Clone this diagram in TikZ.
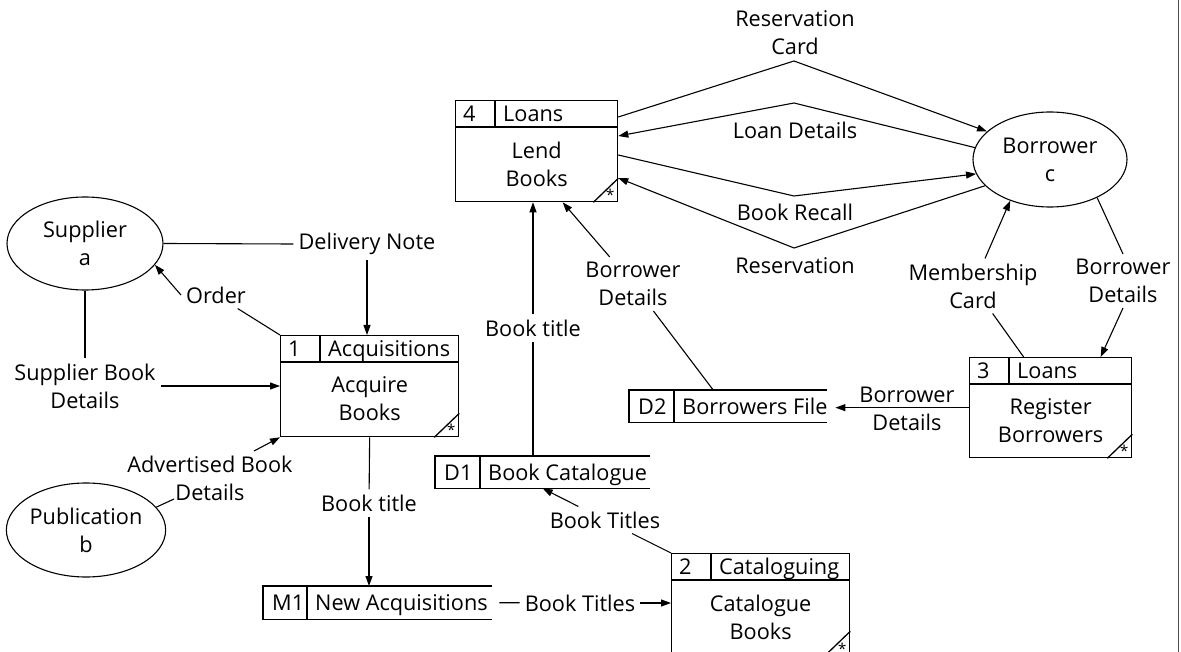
\documentclass[tikz,border=0pt]{standalone}
\usepackage{fontspec}
\setmainfont{Open Sans}
\usetikzlibrary{shapes.geometric,arrows.meta,calc}

\tikzset{
  lbl/.style={inner sep=5pt, align=center},
  ent/.style={ellipse, draw, line width=1.1pt, inner sep=0pt, align=center},
  procbox/.style={draw, line width=1.3pt, inner sep=0pt},
  procline/.style={line width=1.3pt},
  storebox/.style={inner sep=0pt},
  flow/.style={line width=1.1pt},
  arr/.style={flow, -{Triangle[length=10pt,width=7pt]}},
}

% name, x1, y1, w, h, num, title, body
\newcommand{\dfdproc}[8]{%
  \node[procbox, minimum width=#4pt, minimum height=#5pt, anchor=north west] (#1) at (#2,#3) {};
  \draw[procline] ($(#1.north west)+(0,27)$) -- ($(#1.north east)+(0,27)$);
  \draw[procline] ($(#1.north west)+(40,0)$) -- ($(#1.north west)+(40,27)$);
  \node[anchor=base west, inner sep=4pt] at ($(#1.north west)+(4,21.5)$) {#6};
  \node[anchor=base west, inner sep=4pt] at ($(#1.north west)+(44,21.5)$) {#7};
  \node[align=center, inner sep=0pt] at ($(#1.north)+(0,64)$) {#8};
  \draw[procline] ($(#1.south east)+(-25,0)$) -- ($(#1.south east)+(0,-24)$);
  \node[inner sep=0pt, font=\fontsize{15}{15}\selectfont] at ($(#1.south east)+(-8,-7)$) {*};
}
% name, x1, y1, w, h, divider offset, id, title
\newcommand{\dfdstore}[8]{%
  \node[storebox, minimum width=#4pt, minimum height=#5pt, anchor=north west] (#1) at (#2,#3) {};
  \draw[procline] (#1.north east) -- (#1.north west) -- (#1.south west) -- (#1.south east);
  \draw[procline] ($(#1.north west)+(#6,0)$) -- ($(#1.south west)+(#6,0)$);
  \node[anchor=base west, inner sep=4pt] at ($(#1.north west)+(5,24)$) {#7};
  \node[anchor=base west, inner sep=4pt] at ($(#1.north west)+(#6+4,24)$) {#8};
}

\begin{document}
\begin{tikzpicture}[x=1pt,y=-1pt,font=\fontsize{21.7}{28}\selectfont]
\useasboundingbox (0,0) rectangle (1181,652);

% external entities
\node[ent, minimum width=156pt, minimum height=93pt] (sup) at (85,243.5) {Supplier\\a};
\node[ent, minimum width=156pt, minimum height=94pt] (pub) at (86,530) {Publication\\b};
\node[ent, minimum width=154pt, minimum height=95pt] (bor) at (1050,159.5) {Borrower\\c};

% processes
\dfdproc{p1}{280}{335}{178}{101}{1}{Acquisitions}{Acquire\\Books}
\dfdproc{p2}{671}{553}{178}{101}{2}{Cataloguing}{Catalogue\\Books}
\dfdproc{p3}{969}{357}{162}{100}{3}{Loans}{Register\\Borrowers}
\dfdproc{p4}{455}{100}{162}{101}{4}{Loans}{Lend\\Books}

% data stores
\dfdstore{m1}{263}{586}{229}{33}{44}{M1}{New Acquisitions}
\dfdstore{d1}{435}{456}{215}{32}{45}{D1}{Book Catalogue}
\dfdstore{d2}{629}{390}{198}{32}{45}{D2}{Borrowers File}

% labels
\node[lbl] (dn)   at (367,244) {Delivery Note};
\node[lbl] (ord)  at (216,295) {Order};
\node[lbl] (sbd)  at (85,386)  {Supplier Book\\Details};
\node[lbl] (abd)  at (210,478) {Advertised Book\\Details};
\node[lbl] (bt1)  at (369,503) {Book title};
\node[lbl] (btt2) at (580,603) {Book Titles};
\node[lbl] (btt1) at (605,520) {Book Titles};
\node[lbl] (bt3)  at (533,328) {Book title};
\node[lbl] (bdl)  at (633,284) {Borrower\\Details};
\node[lbl] (rc)   at (795,33)  {Reservation\\Card};
\node[lbl] (ld)   at (795,130) {Loan Details};
\node[lbl] (br)   at (795,212) {Book Recall};
\node[lbl] (res)  at (795,266) {Reservation};
\node[lbl] (mc)   at (973,286) {Membership\\Card};
\node[lbl] (bdr)  at (1123,281) {Borrower\\Details};
\node[lbl] (bdm)  at (907,409) {Borrower\\Details};

% bend / free-end coordinates
\coordinate (rcB)  at (794,61);
\coordinate (ldB)  at (794,103);
\coordinate (brB)  at (794,196);
\coordinate (resB) at (794,248);
\coordinate (abdA) at (174,499);
\coordinate (abdB) at (254,451);

% supplier side
\draw[flow] (sup.east) -- (dn.west);
\draw[arr] (dn) -- (dn |- p1.north);
\draw[flow] (p1.north west) -- (ord);
\draw[arr] (ord.west) -- (sup.-17.5);
\draw[flow] (sup.south) -- (sbd.north);
\draw[arr] (sbd.east) -- (sbd.east -| p1.west);
\draw[flow] (pub.18.4) -- (abdA);
\draw[arr] (abdB) -- (p1.south west);

% acquisitions -> stores
\draw[flow] (p1.south) -- (bt1);
\draw[arr] (bt1) -- (bt1 |- m1.north);
\draw[flow] ([xshift=7pt]m1.east) -- (btt2);
\draw[arr] (btt2) -- (btt2 -| p2.west);
\draw[flow] (p2.north west) -- (btt1);
\draw[arr] (btt1) -- (d1.south);
\draw[flow] (bt3 |- d1.north) -- (bt3);
\draw[arr] (bt3) -- (bt3 |- p4.south);
\draw[flow] ([xshift=-15pt]d2.north) -- (bdl);
\draw[arr] (bdl) -- ([xshift=26pt]p4.south);

% loans <-> borrower
\draw[arr] ($(p4.north east)+(0,17)$) -- (rcB) -- (bor.156);
\draw[arr] (bor.171) -- (ldB) -- ($(p4.north east)+(0,36)$);
\draw[arr] ($(p4.north east)+(0,55)$) -- (brB) -- (bor.191);
\draw[arr] (bor.202) -- (resB) -- ($(p4.north east)+(0,78)$);

% borrower <-> register
\draw[flow] ([xshift=-27pt]p3.north) -- (mc);
\draw[arr] (mc) -- (bor.226);
\draw[flow] (bor.-39.5) -- (bdr.north);
\draw[arr] (bdr.south) -- ([xshift=50pt]p3.north);
\draw[arr] (p3.west) -- ([xshift=8pt]d2.east |- p3.west);

% right margin rule
\draw[line width=1pt, black!70] (1178,0) -- (1178,652);
\end{tikzpicture}
\end{document}
